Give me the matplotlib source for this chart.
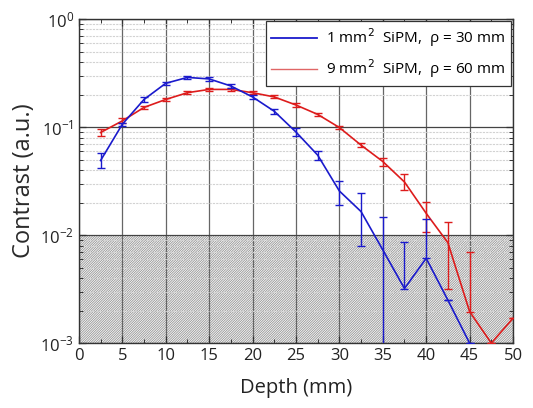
import numpy as np
import matplotlib
matplotlib.use("Agg")
import matplotlib.pyplot as plt
from matplotlib.ticker import LogLocator, FixedLocator, NullFormatter

plt.rcParams['font.family'] = ['Open Sans', 'DejaVu Sans']
plt.rcParams['hatch.linewidth'] = 0.5

depth = [2.5, 5, 7.5, 10, 12.5, 15, 17.5, 20, 22.5, 25, 27.5, 30, 32.5, 35, 37.5, 40, 42.5, 45, 47.5, 50]

blue_x = depth[:18]
blue_y = [0.049, 0.106, 0.18, 0.254, 0.288, 0.279, 0.24, 0.19, 0.14, 0.09,
          0.055, 0.0256, 0.0165, 0.0073, 0.0032, 0.0061, 0.0025, 0.001]
blue_lo = [0.007, 0.004, 0.01, 0.01, 0.007, 0.01, 0.01, 0.01, 0.008, 0.008,
           0.005, 0.0066, 0.0085, 0.0072, 0.0, 0.0, 0.0, 0.0]
blue_hi = [0.008, 0.004, 0.01, 0.01, 0.007, 0.01, 0.01, 0.01, 0.008, 0.008,
           0.005, 0.0064, 0.008, 0.0073, 0.0054, 0.0079, 0.0, 0.0]

red_x = depth
red_y = [0.089, 0.114, 0.152, 0.18, 0.208, 0.223, 0.223, 0.208, 0.19, 0.16,
         0.131, 0.099, 0.068, 0.048, 0.031, 0.0159, 0.0085, 0.00196, 0.001, 0.0017]
red_lo = [0.006, 0.006, 0.006, 0.006, 0.007, 0.007, 0.007, 0.007, 0.006, 0.006,
          0.005, 0.004, 0.003, 0.004, 0.005, 0.0052, 0.0053, 0.0, 0.0, 0.0]
red_hi = [0.006, 0.006, 0.006, 0.006, 0.007, 0.007, 0.007, 0.007, 0.006, 0.006,
          0.005, 0.004, 0.003, 0.004, 0.006, 0.0045, 0.0047, 0.005, 0.0, 0.0]

noise_floor = 1e-2
x_ticks = [0, 5, 10, 15, 20, 25, 30, 35, 40, 45, 50]
blue_label = r"1 mm$^2$  SiPM,  ρ = 30 mm"
red_label = r"9 mm$^2$  SiPM,  ρ = 60 mm"

fig = plt.figure(figsize=(5.33, 4.08), dpi=100)
ax = fig.add_axes([0.148, 0.159, 0.8145, 0.7944])

ax.set_yscale('log')
ax.set_xlim(0, 50)
ax.set_ylim(1e-3, 1)

ax.axhspan(1e-3, noise_floor, facecolor='#f4f4f4', edgecolor='#8a8a8a',
           hatch='/' * 14, linewidth=0, zorder=0)

# grids
ax.yaxis.set_minor_locator(LogLocator(base=10, subs=np.arange(2, 10)))
ax.yaxis.set_minor_formatter(NullFormatter())
ax.xaxis.set_major_locator(FixedLocator(x_ticks))
ax.xaxis.set_minor_locator(FixedLocator([t + 2.5 for t in x_ticks[:-1]]))
ax.grid(True, which='major', axis='x', color='#666666', linewidth=0.9, zorder=1)
ax.grid(True, which='major', axis='y', color='#444444', linewidth=0.9, zorder=1)
ax.grid(True, which='minor', axis='y', color='#d2d2d2', linewidth=0.8,
        linestyle=(0, (2, 1)), zorder=1)

ax.errorbar(blue_x, blue_y, yerr=[blue_lo, blue_hi], color='#1a1acc',
            linewidth=1.2, elinewidth=1.0, capsize=3, capthick=1.0,
            label=blue_label, zorder=4)
ax.errorbar(red_x, red_y, yerr=[red_lo, red_hi], color='#dd1c1c',
            linewidth=1.2, elinewidth=1.0, capsize=3, capthick=1.0,
            label=red_label, zorder=3)

ax.tick_params(which='both', direction='in', top=True, right=True, colors='#333333',
               labelcolor='#222222')
ax.tick_params(which='major', length=5, width=0.9, labelsize=12)
ax.tick_params(which='minor', length=3, width=0.7)
for s in ax.spines.values():
    s.set_color('#333333')
    s.set_linewidth(1.0)

ax.set_xlabel('Depth (mm)', fontsize=14.5, color='#222222', labelpad=10)
ax.set_ylabel('Contrast (a.u.)', fontsize=17, color='#2a2a2a', labelpad=3)

h_b = plt.Line2D([], [], color='#1a1acc', linewidth=1.3)
h_r = plt.Line2D([], [], color='#e06666', linewidth=1.0)
leg = ax.legend([h_b, h_r], [blue_label, red_label], loc='upper right',
                fontsize=11, frameon=True, fancybox=False, framealpha=1,
                edgecolor='#333333', borderaxespad=0.15, handlelength=3.0,
                borderpad=0.35, labelspacing=0.55, handletextpad=0.6)
leg.get_frame().set_linewidth(0.9)
leg.set_zorder(10)

fig.savefig('out.png', dpi=100)
